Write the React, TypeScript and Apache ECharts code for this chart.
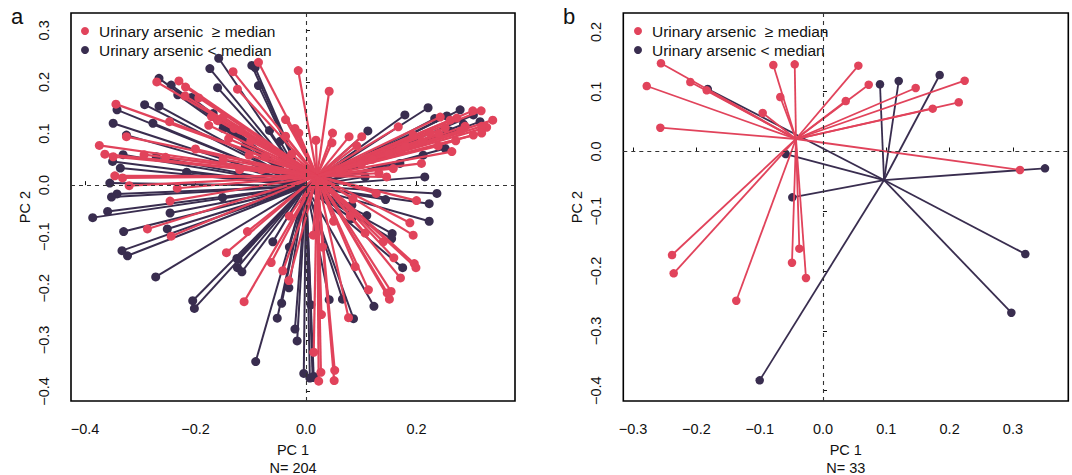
import React, { useEffect, useRef } from "react";
import * as echarts from "echarts";

const highLabel = "Urinary arsenic  ≥ median";
const lowLabel = "Urinary arsenic < median";
const RED = "#E1435B";
const DARK = "#392D4F";
const FONT = "'Liberation Sans', Arial, sans-serif";

const centerHighA = [0.02, 0.0175];
const centerLowA = [0.0, -0.002];
const centerHighB = [-0.0427, 0.0209];
const centerLowB = [0.0964, -0.0477];

const highA = [
  [-0.086, 0.238], [-0.132, 0.22], [-0.014, 0.222], [-0.124, 0.186], [-0.27, 0.2], [-0.23, 0.202], [-0.218, 0.19],
  [-0.219, 0.173], [-0.344, 0.157], [-0.247, 0.123], [-0.171, 0.133], [-0.176, 0.116], [-0.037, 0.127], [-0.02, 0.11],
  [-0.013, 0.101], [-0.037, 0.095], [-0.325, 0.094], [-0.374, 0.077], [-0.364, 0.06], [-0.349, 0.055], [-0.293, 0.059],
  [-0.254, 0.054], [-0.103, 0.058], [-0.074, 0.055], [-0.026, 0.06], [-0.346, 0.018], [-0.332, 0.014], [-0.32, -0.001],
  [-0.233, -0.006], [-0.246, -0.031], [-0.287, -0.085], [-0.244, -0.099], [-0.106, -0.09], [-0.144, -0.131],
  [-0.063, -0.15], [-0.042, -0.166], [-0.031, -0.185], [-0.112, -0.226], [0.042, 0.182], [0.048, 0.101], [0.047, 0.082],
  [0.018, 0.087], [0.078, 0.094], [0.101, 0.094], [0.092, 0.076], [0.167, 0.113], [0.243, 0.132], [0.302, 0.144],
  [0.317, 0.144], [0.338, 0.126], [0.273, 0.13], [0.261, 0.126], [0.288, 0.114], [0.327, 0.112], [0.318, 0.114],
  [0.318, 0.101], [0.303, 0.097], [0.271, 0.086], [0.264, 0.065], [0.239, 0.076], [0.209, 0.042], [0.158, 0.032],
  [0.146, 0.016], [0.194, 0.097], [0.132, 0.023], [0.127, -0.016], [0.2, -0.03], [0.188, -0.073], [0.194, -0.097],
  [0.085, -0.027], [0.107, -0.093], [0.013, -0.097], [0.14, -0.11], [0.159, -0.141], [0.196, -0.152], [0.199, -0.16],
  [0.171, -0.18], [0.089, -0.158], [0.113, -0.203], [0.154, -0.206], [0.147, -0.209], [0.151, -0.221], [0.077, -0.257],
  [0.028, -0.251], [0.014, -0.324], [0.027, -0.363], [0.052, -0.359], [0.023, -0.38], [0.051, -0.379], [-0.194, 0.169],
  [-0.15, 0.132], [0.224, 0.101], [0.252, 0.111], [0.17, 0.068], [-0.119, 0.107],
  [0.21, 0.085], [0.15, 0.06], [0.12, 0.05], [0.24, 0.1], [0.18, 0.075], [0.28, 0.105], [0.1, 0.04], [0.06, 0.03],
  [-0.16, 0.125], [-0.13, 0.11], [-0.1, 0.085], [-0.14, 0.09], [-0.2, 0.07], [-0.15, 0.05], [-0.12, 0.03], [-0.08, 0.03],
  [0.05, -0.07], [0.08, -0.06], [-0.03, -0.06], [0.03, -0.12],
];

const lowA = [
  [-0.158, 0.246], [-0.174, 0.226], [-0.098, 0.232], [-0.092, 0.228], [-0.086, 0.193], [-0.16, 0.189], [-0.266, 0.207],
  [-0.244, 0.194], [-0.232, 0.175], [-0.207, 0.17], [-0.292, 0.156], [-0.266, 0.153], [-0.342, 0.146], [-0.277, 0.12],
  [-0.349, 0.12], [-0.325, 0.097], [-0.168, 0.139], [-0.066, 0.106], [-0.047, 0.085], [-0.11, 0.074], [-0.331, 0.059],
  [-0.35, 0.046], [-0.336, 0.033], [-0.271, 0.055], [-0.216, 0.025], [-0.355, 0.004], [-0.342, -0.017], [-0.352, -0.023],
  [-0.151, -0.024], [-0.359, -0.051], [-0.246, -0.054], [-0.386, -0.063], [-0.33, -0.09], [-0.251, -0.085],
  [-0.333, -0.127], [-0.323, -0.137], [-0.272, -0.178], [-0.125, -0.142], [-0.123, -0.144], [-0.124, -0.16],
  [-0.116, -0.168], [-0.205, -0.224], [-0.202, -0.239], [-0.091, -0.342], [-0.052, -0.258], [-0.044, -0.229],
  [-0.031, -0.199], [-0.02, -0.279], [-0.016, -0.302], [-0.004, -0.365], [0.007, -0.374], [0.009, -0.232],
  [0.112, 0.105], [0.179, 0.136], [0.221, 0.15], [0.279, 0.146], [0.255, 0.134], [0.233, 0.129], [0.303, 0.136],
  [0.315, 0.123], [0.285, 0.118], [0.252, 0.071], [0.212, 0.058], [0.17, 0.042], [0.107, 0.016], [0.215, 0.016],
  [0.237, -0.016], [0.144, -0.028], [0.223, -0.036], [0.223, -0.07], [0.11, -0.059], [0.083, -0.039], [0.156, -0.094],
  [0.155, -0.104], [0.175, -0.16], [0.042, -0.222], [0.066, -0.221], [0.123, -0.235], [0.086, -0.259], [0.083, -0.065],
  [0.012, -0.373], [0.014, -0.371],
  [0.2, 0.085], [0.26, 0.105], [0.15, 0.06], [-0.15, 0.11], [-0.03, -0.12], [-0.06, -0.11],
];

const highB = [
  [-0.256, 0.1475], [-0.2785, 0.1095], [-0.2096, 0.1162], [-0.1837, 0.1023], [-0.257, 0.0398], [-0.0953, 0.0644],
  [-0.0785, 0.1446], [-0.0447, 0.1458], [-0.0675, 0.0911], [0.0558, 0.1435], [0.0722, 0.1117], [0.0359, 0.0844],
  [0.1464, 0.1062], [0.2238, 0.1184], [0.2144, 0.0823], [0.1733, 0.0716], [0.3112, -0.0309], [-0.2385, -0.1731],
  [-0.2359, -0.2037], [-0.137, -0.2495], [-0.049, -0.186], [-0.0374, -0.1625], [-0.0269, -0.2115],
];

const lowB = [
  [0.09, 0.1124], [0.1196, 0.1179], [0.1843, 0.1279], [0.3507, -0.0281], [0.3196, -0.1714], [0.2975, -0.2696],
  [-0.1, -0.3826], [-0.0485, -0.0766], [-0.0589, -0.0042], [-0.1821, 0.1045],
];

const xTicksA = [-0.4, -0.2, 0, 0.2];
const yTicksA = [-0.4, -0.3, -0.2, -0.1, 0, 0.1, 0.2, 0.3];
const xTicksB = [-0.3, -0.2, -0.1, 0, 0.1, 0.2, 0.3];
const yTicksB = [-0.4, -0.3, -0.2, -0.1, 0, 0.1, 0.2];

const fmt = (v: number) => v.toFixed(1).replace("-", "\u2212");

function xAxis(idx: number, min: number, max: number, ticks: number[], name: string) {
  return {
    type: "value", gridIndex: idx, min, max, name, nameLocation: "middle", nameGap: 38,
    nameTextStyle: { fontFamily: FONT, fontSize: 14.5, color: "#111", lineHeight: 18 },
    splitLine: { show: false }, axisLine: { show: false },
    axisTick: { show: true, inside: true, length: 4, customValues: ticks, lineStyle: { color: "#111", width: 1 } },
    axisLabel: { show: true, margin: 20, customValues: ticks, formatter: fmt, fontFamily: FONT, fontSize: 14.5, color: "#111" },
  };
}

function yAxis(idx: number, min: number, max: number, ticks: number[]) {
  return {
    type: "value", gridIndex: idx, min, max, name: "PC 2", nameLocation: "middle", nameGap: 39, nameRotate: 90,
    nameTextStyle: { fontFamily: FONT, fontSize: 14.5, color: "#111" },
    splitLine: { show: false }, axisLine: { show: false },
    axisTick: { show: true, inside: true, length: 4, customValues: ticks, lineStyle: { color: "#111", width: 1 } },
    axisLabel: { show: true, margin: 20, rotate: 90, customValues: ticks, formatter: fmt, fontFamily: FONT, fontSize: 14.5, color: "#111" },
  };
}

function spokes(idx: number, pts: number[][], center: number[], color: string, width: number, z: number) {
  return {
    type: "custom", coordinateSystem: "cartesian2d", xAxisIndex: idx, yAxisIndex: idx, z, silent: true,
    encode: { x: 0, y: 1 }, data: pts,
    renderItem: (_p: any, api: any) => {
      const a = api.coord(center);
      const b = api.coord([api.value(0), api.value(1)]);
      return { type: "line", shape: { x1: a[0], y1: a[1], x2: b[0], y2: b[1] }, style: { stroke: color, lineWidth: width, fill: null } };
    },
  };
}

function dots(idx: number, name: string, pts: number[][], color: string, size: number, z: number, extra: any = {}) {
  return {
    type: "scatter", name, xAxisIndex: idx, yAxisIndex: idx, z, data: pts, symbol: "circle", symbolSize: size,
    itemStyle: { color, opacity: 1 }, silent: true, ...extra,
  };
}

const zeroLines = {
  silent: true, symbol: "none", animation: false, z: 20,
  label: { show: false },
  lineStyle: { color: "#333", type: [4, 4], width: 1.1 },
  data: [{ xAxis: 0 }, { yAxis: 0 }],
};

function legend(left: number) {
  return {
    left, top: 23, padding: 0, orient: "vertical", itemWidth: 8, itemHeight: 8, itemGap: 3, selectedMode: false, icon: "circle",
    data: [highLabel, lowLabel], z: 30,
    textStyle: { fontFamily: FONT, fontSize: 15.5, lineHeight: 16, color: "#111", padding: [0, 0, 0, 5] },
  };
}

export default function App() {
  const ref = useRef<HTMLDivElement>(null);
  useEffect(() => {
    const chart = echarts.init(ref.current!, undefined, { renderer: "svg" });
    chart.setOption({
      animation: false,
      backgroundColor: "#fff",
      title: [
        { text: "a", left: 11, top: 5, padding: 0, textStyle: { fontFamily: FONT, fontSize: 22, fontWeight: "normal", color: "#111" } },
        { text: "b", left: 563, top: 5, padding: 0, textStyle: { fontFamily: FONT, fontSize: 22, fontWeight: "normal", color: "#111" } },
      ],
      legend: [legend(81), legend(634)],
      grid: [
        { left: 71, top: 13, width: 444, height: 388, outerBoundsMode: "none", show: true, borderColor: "#000", borderWidth: 1.6, backgroundColor: "transparent" },
        { left: 623.3, top: 13, width: 445, height: 388, outerBoundsMode: "none", show: true, borderColor: "#000", borderWidth: 1.6, backgroundColor: "transparent" },
      ],
      xAxis: [xAxis(0, -0.4253, 0.3783, xTicksA, "PC 1\nN= 204"), xAxis(1, -0.3155, 0.3875, xTicksB, "PC 1\nN= 33")],
      yAxis: [yAxis(0, -0.4185, 0.3337, yTicksA), yAxis(1, -0.4172, 0.2316, yTicksB)],
      series: [
        spokes(0, lowA, centerLowA, DARK, 2, 2),
        dots(0, lowLabel, lowA, DARK, 9, 3),
        spokes(0, highA, centerHighA, RED, 2.2, 4),
        dots(0, highLabel, highA, RED, 9, 5, { markLine: zeroLines }),
        spokes(1, lowB, centerLowB, DARK, 1.8, 2),
        dots(1, lowLabel, lowB, DARK, 8.5, 3),
        spokes(1, highB, centerHighB, RED, 1.8, 4),
        dots(1, highLabel, highB, RED, 8.5, 5, { markLine: zeroLines }),
      ],
    });
    return () => chart.dispose();
  }, []);
  return <div ref={ref} style={{ position: "absolute", left: 0, top: 0, width: 1072, height: 475 }} />;
}
